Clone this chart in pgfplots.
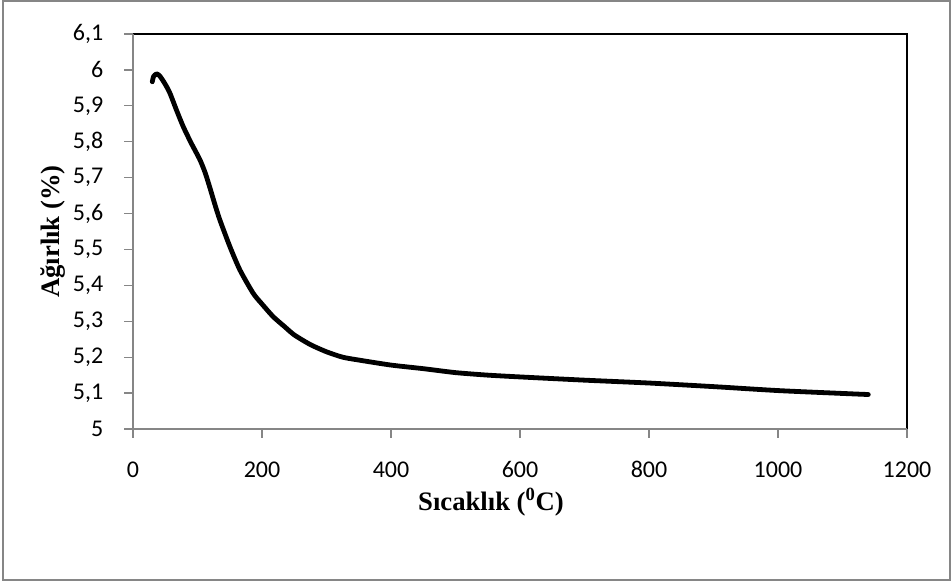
\documentclass[border=0pt]{standalone}
\usepackage{fontspec}
\setmainfont{Carlito}
\newfontfamily\timesfont{Liberation Serif}
\usepackage{pgfplots}
\pgfplotsset{compat=1.18}
\definecolor{axgray}{RGB}{134,134,134}
\begin{document}
\begin{tikzpicture}
\path (0,0) rectangle (714pt,435.75pt);
\draw[axgray, line width=1.2pt] (2.25pt,0.75pt) rectangle (712.5pt,435pt);
\begin{axis}[
  at={(99.75pt,114pt)}, anchor=south west,
  scale only axis, width=580.5pt, height=296.25pt,
  xmin=0, xmax=1200, ymin=5, ymax=6.1,
  xtick={0,200,400,600,800,1000,1200},
  ytick={5,5.1,5.2,5.3,5.4,5.5,5.6,5.7,5.8,5.9,6,6.1},
  axis line style={draw=none},
  tick align=outside, xtick pos=left, ytick pos=left,
  major tick length=6.75pt,
  tick style={axgray, line width=0.9pt},
  /pgf/number format/.cd, use comma, 1000 sep={}, assume math mode=true,
  /pgfplots/.cd,
  ticklabel style={font=\fontsize{18}{20}\selectfont},
  xticklabel style={anchor=base, yshift=-30pt},
  yticklabel style={anchor=east, xshift=-12pt},
  every axis y label/.style={at={(rel axis cs:-0.1034,0.5)}, rotate=90, anchor=center},
  every axis x label/.style={at={(rel axis cs:0.4625,-0.2076)}, anchor=base},
  xlabel={\timesfont\bfseries\fontsize{20}{22}\selectfont Sıcaklık (\textsuperscript{0}C)},
  ylabel={\timesfont\bfseries\fontsize{20}{22}\selectfont Ağırlık (\%)},
  clip=false,
]
\draw[black, line width=0.9pt] (rel axis cs:0,1) -- (rel axis cs:1,1) -- (rel axis cs:1,0);
\draw[axgray, line width=0.9pt] (rel axis cs:0,1) -- (rel axis cs:0,0) -- (rel axis cs:1,0);
\addplot[black, line width=3.6pt, line cap=round, line join=round, smooth, tension=0.4] coordinates {
(29.9,5.967) (32,5.982) (36.7,5.989) (42,5.982) (50,5.960) (57.3,5.935)
(67,5.890) (77.9,5.842) (90,5.797) (103.7,5.750) (112,5.713) (119.2,5.672)
(127,5.625) (134.7,5.582) (150.2,5.508) (165.7,5.443) (186.3,5.378) (200,5.348)
(217.2,5.313) (235,5.285) (250,5.262) (275,5.235) (300,5.215) (325,5.200)
(350,5.192) (400,5.178) (450,5.168) (500,5.157) (550,5.150) (600,5.145)
(700,5.136) (800,5.128) (900,5.118) (1000,5.107) (1100,5.099) (1140,5.096)
};
\end{axis}
\end{tikzpicture}
\end{document}
